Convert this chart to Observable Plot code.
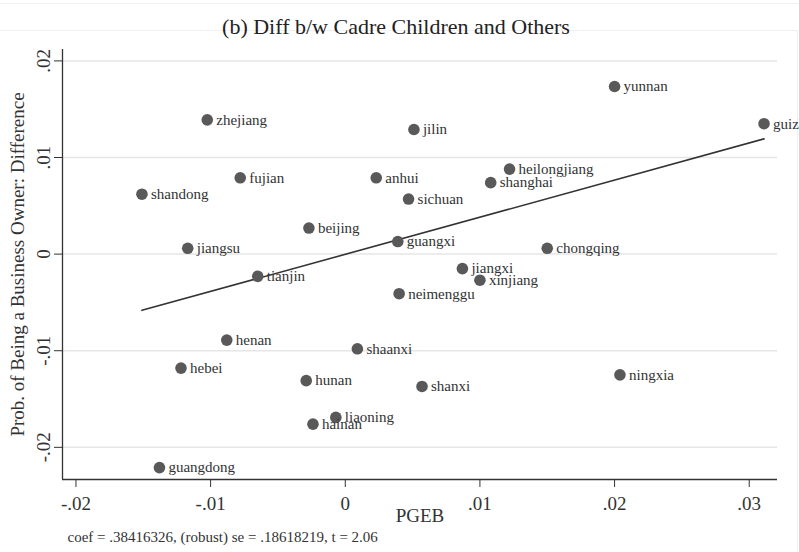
<!DOCTYPE html>
<html>
<head>
<meta charset="utf-8">
<script src="https://cdn.jsdelivr.net/npm/d3@7"></script>
<script src="https://cdn.jsdelivr.net/npm/@observablehq/plot@0.6"></script>
<style>
  html, body { margin: 0; padding: 0; background: #fff; overflow: hidden; }
  #wrap { position: relative; width: 799px; height: 552px; }
  .edge { position: absolute; background: #f0f0f0; }
</style>
</head>
<body>
<div id="wrap">
  <div class="edge" style="left:0;top:3px;width:799px;height:1px"></div>
  <div class="edge" style="left:0;top:30px;width:797px;height:1px"></div>
  <div class="edge" style="left:797px;top:30px;width:1px;height:522px"></div>
  <div id="chart" style="position:absolute;left:0;top:0"></div>
</div>
<script>
// Provinces with their PGEB value and the cadre/non-cadre difference
const provinces = ["yunnan", "guizhou", "zhejiang", "jilin", "heilongjiang", "shanghai", "fujian", "anhui",
  "sichuan", "shandong", "beijing", "guangxi", "jiangsu", "chongqing", "tianjin", "jiangxi", "xinjiang",
  "neimenggu", "henan", "shaanxi", "hebei", "hunan", "shanxi", "ningxia", "liaoning", "hainan", "guangdong"];
const pgeb = [0.0200, 0.0311, -0.01025, 0.0051, 0.0122, 0.0108, -0.0078, 0.0023,
  0.0047, -0.0151, -0.0027, 0.0039, -0.0117, 0.0150, -0.0065, 0.0087, 0.0100,
  0.0040, -0.0088, 0.0009, -0.0122, -0.0029, 0.0057, 0.0204, -0.0007, -0.0024, -0.0138];
const diff = [0.01735, 0.0135, 0.0139, 0.0129, 0.0088, 0.0074, 0.0079, 0.0079,
  0.0057, 0.0062, 0.0027, 0.0013, 0.0006, 0.0006, -0.0023, -0.0015, -0.0027,
  -0.0041, -0.0089, -0.0098, -0.0118, -0.0131, -0.0137, -0.0125, -0.0169, -0.0176, -0.0221];

// Fitted line (slope from the regression note)
const fitCoef = 0.38416326;
const fitIntercept = -0.00002;

const xTicks = [-0.02, -0.01, 0, 0.01, 0.02, 0.03];
const yTicks = [-0.02, -0.01, 0, 0.01, 0.02];
const xDomain = [-0.0210, 0.0321];
const yDomain = [-0.02333, 0.02118];

const title = "(b) Diff b/w Cadre Children and Others";
const xLabel = "PGEB";
const yLabel = "Prob. of Being a Business Owner: Difference";
const note = "coef = .38416326, (robust) se = .18618219, t = 2.06";

const points = provinces.map((name, i) => ({name, x: pgeb[i], y: diff[i]}));
const [x0, x1] = d3.extent(pgeb);
const fit = [x0, x1].map(x => ({x, y: fitIntercept + fitCoef * x}));

// Stata-style tick labels: ".02", "-.01", "0"
const fmt = d => d === 0 ? "0" : (+d.toFixed(2)).toString().replace(/^(-?)0\./, "$1.");

const chart = Plot.plot({
  width: 799,
  height: 552,
  marginLeft: 62,
  marginRight: 22,
  marginTop: 49,
  marginBottom: 73,
  style: {fontFamily: "'Liberation Serif', 'Times New Roman', serif", background: "transparent", color: "#333"},
  x: {domain: xDomain},
  y: {domain: yDomain},
  marks: [
    Plot.gridY(yTicks, {stroke: "#e6e6e6", strokeOpacity: 1, strokeWidth: 1.5}),
    Plot.ruleX([xDomain[0]], {stroke: "#333", strokeWidth: 1.3}),
    Plot.ruleY([yDomain[0]], {stroke: "#333", strokeWidth: 1.3}),
    Plot.axisX(xTicks, {tickSize: 8, tickPadding: 9, tickFormat: fmt, fontSize: 19, fill: "#333", stroke: "#333", label: null}),
    Plot.axisY(yTicks, {tickSize: 8, tickPadding: 5, tickRotate: -90, tickFormat: fmt, fontSize: 19, fill: "#333", stroke: "#333", label: null}),
    Plot.line(fit, {x: "x", y: "y", stroke: "#333", strokeWidth: 1.6}),
    Plot.dot(points, {x: "x", y: "y", r: 5.8, fill: "#595959", stroke: "none"}),
    Plot.text(points, {x: "x", y: "y", text: "name", dx: 9, textAnchor: "start", fontSize: 15, fill: "#333"}),
    Plot.text([title], {frameAnchor: "top", dx: -24, dy: -31, fontSize: 22, fill: "#222"}),
    Plot.text([yLabel], {frameAnchor: "left", textAnchor: "middle", dx: -45, dy: 0, rotate: -90, fontSize: 19, fill: "#333"}),
    Plot.text([xLabel], {frameAnchor: "bottom", dy: 42, fontSize: 19, fill: "#333"}),
    Plot.text([note], {frameAnchor: "bottom-left", textAnchor: "start", dx: 5, dy: 62, fontSize: 15, fill: "#333"})
  ]
});
document.getElementById("chart").append(chart);
</script>
</body>
</html>
